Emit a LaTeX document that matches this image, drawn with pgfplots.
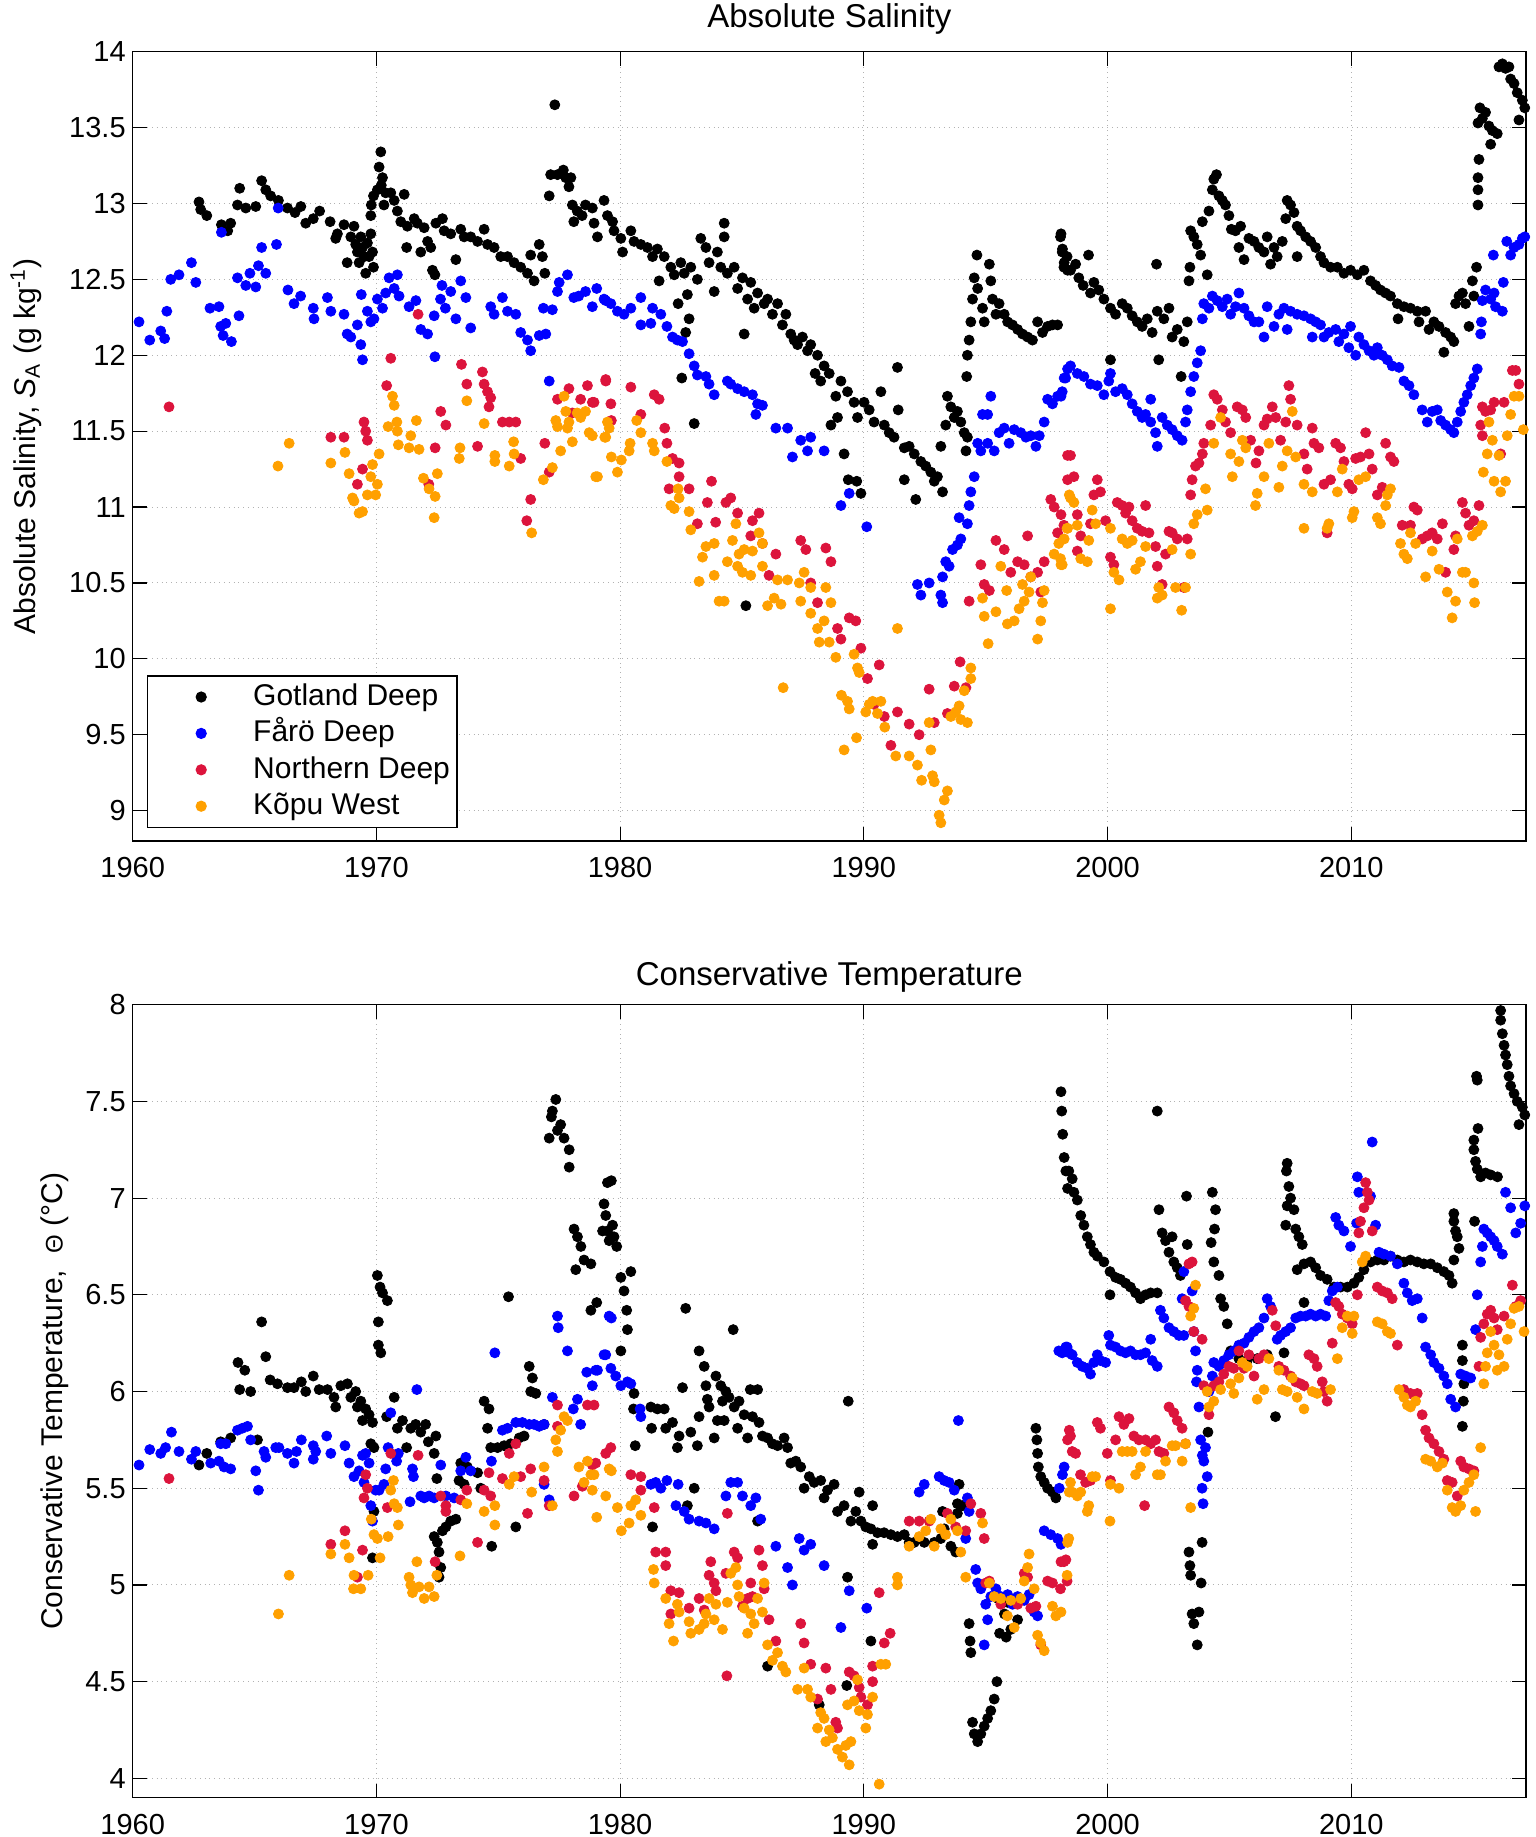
\documentclass[border=0pt]{standalone}
\usepackage{fontspec}
\setmainfont{Liberation Sans}
\usepackage{pgfplots}
\pgfplotsset{compat=1.18}
\definecolor{cblue}{RGB}{0,0,255}
\definecolor{cred}{RGB}{220,20,60}
\definecolor{corange}{RGB}{255,160,0}
\pgfplotsset{
 dots/.style={only marks, mark=*, mark size=2.5pt,
   legend image code/.code={\draw[##1] plot coordinates {(25pt,0pt)}; \path[draw=none,fill=none] (0pt,-3pt) rectangle (49.5pt,3pt);}},
 common/.style={scale only axis, width=696.65pt, xmin=1960, xmax=2017.17,
   xtick={1960,1970,...,2010}, grid=major,
   grid style={dotted, color=gray!60, line width=0.5pt},
   tick align=inside, tick pos=both, major tick length=7pt,
   axis line style={line width=0.6pt}, tick style={black, line width=0.6pt},
   /pgf/number format/assume math mode=true, /pgf/number format/1000 sep={},
   ticklabel style={font=\fontsize{14.5}{17}\selectfont},
   xticklabel style={yshift=-4.7pt},
   title style={at={(axis description cs:0.5,1)}, anchor=base, font=\fontsize{16.5}{19}\selectfont},
 }
}
\begin{document}
\begin{tikzpicture}
\useasboundingbox (0,0) rectangle (768pt,918.5pt);
% ---------------- TOP PANEL ----------------
\begin{axis}[common, at={(66.35pt,498pt)}, anchor=south west, height=394.65pt,
  ymin=8.8, ymax=14, ytick={9,9.5,...,14},
  yticklabels={9,9.5,10,10.5,11,11.5,12,12.5,13,13.5,14},
  title={Absolute Salinity}, title style={yshift=6pt},
  every axis y label/.style={at={(axis description cs:-0.0766,0.5)}, rotate=90, anchor=center, font=\fontsize{15}{18}\selectfont},
  ylabel={Absolute Salinity, \textit{S}\textsubscript{A} (g kg\textsuperscript{-1})},
  legend style={at={(axis description cs:0.00998,0.0167)}, anchor=south west, draw=black, line width=0.6pt,
    font=\fontsize{15}{18}\selectfont, inner xsep=2pt, inner ysep=1.4pt,
    nodes={inner sep=1.5pt, text height=11.7pt, text depth=3.5pt}},
  legend cell align=left]
\addplot[dots, color=black] coordinates {
(1962.72,13.01)(1962.79,12.96)(1963.04,12.92)(1963.64,12.86)(1964.02,12.87)(1963.9,12.82)(1964.39,13.10)(1964.3,12.99)
(1964.64,12.97)(1965.05,12.98)(1965.29,13.15)(1965.46,13.09)(1965.66,13.05)(1965.98,13.02)(1966.35,12.97)(1966.66,12.94)
(1966.9,12.98)(1967.1,12.87)(1967.41,12.90)(1967.67,12.95)(1968.1,12.88)(1968.4,12.80)(1968.33,12.77)(1968.67,12.86)
(1968.8,12.61)(1968.95,12.78)(1969.08,12.85)(1969.15,12.73)(1969.22,12.68)(1969.29,12.61)(1969.36,12.78)(1969.43,12.71)
(1969.5,12.65)(1969.56,12.54)(1969.63,12.74)(1969.7,12.65)(1969.77,12.80)(1969.84,12.68)(1969.88,12.58)(1969.77,12.92)
(1969.79,12.99)(1969.88,13.05)(1970.04,13.09)(1970.11,13.24)(1970.18,13.34)(1970.25,13.17)(1970.2,13.12)(1970.38,13.07)
(1970.31,12.99)(1970.59,13.07)(1970.73,13.02)(1970.86,12.95)(1971.14,13.06)(1971.0,12.88)(1971.27,12.85)(1971.24,12.71)
(1971.55,12.90)(1971.68,12.87)(1971.82,12.68)(1971.96,12.84)(1972.1,12.75)(1972.23,12.71)(1972.3,12.56)(1972.4,12.53)
(1972.44,12.87)(1972.71,12.90)(1972.78,12.82)(1973.05,12.80)(1973.26,12.63)(1973.46,12.83)(1973.6,12.78)(1973.87,12.78)
(1974.15,12.75)(1974.42,12.83)(1974.56,12.73)(1974.83,12.71)(1975.1,12.65)(1975.38,12.65)(1975.65,12.61)(1975.92,12.58)
(1976.2,12.54)(1976.33,12.66)(1976.47,12.49)(1976.68,12.73)(1976.81,12.65)(1976.91,12.54)(1977.09,13.05)(1977.15,13.19)
(1977.32,13.65)(1977.43,13.19)(1977.67,13.22)(1977.77,13.17)(1977.98,13.17)(1977.9,13.11)(1978.04,12.99)(1978.1,12.88)
(1978.24,12.95)(1978.44,12.92)(1978.58,12.99)(1978.86,12.97)(1978.93,12.87)(1979.07,12.78)(1979.34,13.02)(1979.48,12.92)
(1979.69,12.88)(1979.75,12.82)(1980.03,12.77)(1980.1,12.68)(1980.44,12.82)(1980.57,12.75)(1980.85,12.73)(1981.12,12.71)
(1981.33,12.65)(1981.53,12.70)(1981.6,12.49)(1981.81,12.65)(1982.08,12.58)(1982.22,12.53)(1982.38,12.34)(1982.49,12.61)
(1982.63,12.54)(1982.76,12.40)(1982.83,12.24)(1982.69,12.15)(1982.53,11.85)(1983.04,11.55)(1982.9,12.58)(1983.17,12.50)
(1983.31,12.77)(1983.52,12.71)(1983.65,12.61)(1983.86,12.42)(1983.99,12.68)(1984.13,12.58)(1984.27,12.87)(1984.27,12.78)
(1984.4,12.54)(1984.68,12.58)(1984.82,12.44)(1985.02,12.51)(1985.09,12.14)(1985.16,10.35)(1985.23,12.37)(1985.36,12.48)
(1985.5,12.31)(1985.64,12.41)(1985.91,12.34)(1986.05,12.37)(1986.25,12.27)(1986.46,12.34)(1986.66,12.20)(1986.8,12.27)
(1987.0,12.14)(1987.14,12.10)(1987.28,12.07)(1987.48,12.12)(1987.69,12.03)(1987.82,12.07)(1988.0,11.88)(1988.1,12.0)
(1988.23,11.83)(1988.37,11.93)(1988.58,11.88)(1988.65,11.54)(1988.85,11.73)(1988.92,11.59)(1989.06,11.83)(1989.19,11.35)
(1989.33,11.76)(1989.36,11.18)(1989.6,11.69)(1989.71,11.17)(1989.88,11.09)(1989.74,11.59)(1990.01,11.69)(1990.22,11.64)
(1990.42,11.56)(1990.7,11.76)(1990.84,11.54)(1991.04,11.49)(1991.24,11.46)(1991.38,11.92)(1991.41,11.64)(1991.66,11.39)
(1991.86,11.40)(1992.07,11.35)(1992.13,11.05)(1992.34,11.30)(1992.54,11.27)(1992.75,11.23)(1992.89,11.17)(1993.02,11.20)
(1993.23,11.10)(1991.66,11.18)(1993.16,11.40)(1993.36,11.54)(1993.43,11.73)(1993.57,11.66)(1993.71,11.59)(1993.84,11.63)
(1993.98,11.56)(1994.12,11.49)(1994.19,11.37)(1994.25,11.46)(1994.22,11.86)(1994.25,12.0)(1994.32,12.10)(1994.39,12.22)
(1994.46,12.37)(1994.53,12.51)(1994.64,12.66)(1994.67,12.44)(1994.87,12.31)(1994.94,12.22)(1995.15,12.60)(1995.21,12.49)
(1995.28,12.37)(1995.42,12.27)(1995.55,12.34)(1995.76,12.27)(1995.9,12.22)(1996.1,12.20)(1996.31,12.17)(1996.51,12.14)
(1996.72,12.12)(1996.92,12.10)(1997.13,12.22)(1997.33,12.15)(1997.54,12.19)(1997.74,12.20)(1997.95,12.20)(1998.09,12.80)
(1998.15,12.70)(1998.22,12.61)(1998.36,12.56)(1998.07,12.78)(1998.14,12.68)(1998.21,12.58)(1998.34,12.65)(1998.48,12.56)
(1998.69,12.60)(1998.82,12.51)(1999.0,12.46)(1999.22,12.66)(1999.3,12.41)(1999.44,12.48)(1999.64,12.43)(1999.85,12.37)
(2000.12,12.31)(2000.33,12.27)(2000.12,11.97)(2000.6,12.34)(2000.81,12.31)(2001.01,12.26)(2001.22,12.22)(2001.42,12.19)
(2001.63,12.24)(2001.83,12.15)(2002.01,12.60)(2002.04,12.29)(2002.1,11.97)(2002.31,12.24)(2002.52,12.31)(2002.65,12.12)
(2002.86,12.17)(2003.02,11.86)(2003.13,12.09)(2003.27,12.22)(2003.34,12.49)(2003.38,12.58)(2003.41,12.82)(2003.54,12.78)
(2003.68,12.73)(2003.82,12.66)(2003.89,12.88)(2004.09,12.53)(2004.16,12.95)(2004.3,13.09)(2004.36,13.16)(2004.47,13.19)
(2004.57,13.05)(2004.71,13.02)(2004.84,12.99)(2004.98,12.92)(2005.08,12.83)(2005.25,12.82)(2005.39,12.71)(2005.46,12.85)
(2005.6,12.63)(2005.8,12.77)(2006.01,12.75)(2006.21,12.71)(2006.42,12.68)(2006.55,12.78)(2006.69,12.60)(2006.83,12.71)
(2006.96,12.65)(2007.17,12.75)(2007.31,12.90)(2007.37,13.02)(2007.51,12.99)(2007.65,12.94)(2007.78,12.85)(2007.92,12.82)
(2007.78,12.65)(2008.13,12.78)(2008.33,12.75)(2008.54,12.71)(2008.74,12.65)(2008.88,12.61)(2009.15,12.58)(2009.43,12.58)
(2009.7,12.54)(2009.97,12.56)(2010.25,12.53)(2010.52,12.56)(2010.79,12.49)(2011.0,12.46)(2011.2,12.43)(2011.41,12.41)
(2011.61,12.39)(2011.89,12.34)(2011.92,12.24)(2012.16,12.32)(2012.43,12.31)(2012.71,12.29)(2012.78,12.22)(2013.05,12.29)
(2013.19,12.17)(2013.39,12.22)(2013.6,12.19)(2013.8,12.02)(2013.87,12.15)(2014.08,12.12)(2014.21,12.09)(2014.28,12.34)
(2014.42,12.39)(2014.56,12.41)(2014.69,12.34)(2014.83,12.19)(2014.97,12.49)(2015.03,12.39)(2015.14,12.58)(2015.2,12.99)
(2015.2,13.09)(2015.2,13.17)(2015.24,13.29)(2015.2,13.53)(2015.28,13.63)(2015.38,13.56)(2015.51,13.60)(2015.65,13.51)
(2015.79,13.48)(2015.72,13.39)(2015.99,13.46)(2016.06,13.90)(2016.2,13.92)(2016.33,13.89)(2016.47,13.90)(2016.54,13.82)
(2016.68,13.79)(2016.81,13.73)(2016.88,13.55)(2017.02,13.68)(2017.12,13.63)
};
\addlegendentry{Gotland Deep}
\addplot[dots, color=cblue] coordinates {
(1960.26,12.22)(1960.7,12.10)(1961.15,12.16)(1961.31,12.11)(1961.4,12.29)(1961.56,12.50)(1961.9,12.53)(1962.41,12.61)
(1962.59,12.48)(1963.17,12.31)(1963.54,12.32)(1963.64,12.81)(1963.61,12.19)(1963.82,12.21)(1963.71,12.13)(1964.05,12.09)
(1964.36,12.26)(1964.3,12.51)(1964.64,12.46)(1964.81,12.54)(1965.05,12.45)(1965.16,12.59)(1965.29,12.71)(1965.46,12.54)
(1965.9,12.73)(1965.97,12.97)(1966.37,12.43)(1966.62,12.34)(1966.89,12.39)(1967.41,12.31)(1967.44,12.24)(1967.99,12.38)
(1968.13,12.29)(1968.67,12.27)(1968.8,12.14)(1968.95,12.12)(1969.22,12.20)(1969.36,12.07)(1969.43,11.97)(1969.38,12.40)
(1969.63,12.29)(1969.77,12.22)(1969.9,12.24)(1970.04,12.37)(1970.25,12.31)(1970.38,12.41)(1970.52,12.51)(1970.73,12.44)
(1970.86,12.53)(1970.93,12.39)(1971.34,12.32)(1971.62,12.36)(1971.82,12.17)(1972.1,12.14)(1972.37,12.26)(1972.4,11.99)
(1972.63,12.37)(1972.69,12.46)(1972.83,12.31)(1973.05,12.42)(1973.26,12.24)(1973.46,12.49)(1973.67,12.38)(1973.87,12.18)
(1974.69,12.32)(1974.83,12.27)(1975.17,12.38)(1975.38,12.29)(1975.72,12.27)(1975.92,12.15)(1976.2,12.10)(1976.33,12.03)
(1976.68,12.13)(1976.95,12.14)(1976.85,12.31)(1977.09,11.83)(1977.22,12.30)(1977.43,12.42)(1977.5,12.48)(1977.84,12.53)
(1978.1,12.38)(1978.3,12.39)(1978.58,12.42)(1978.86,12.32)(1979.04,12.44)(1979.41,12.36)(1979.34,12.37)(1979.62,12.34)
(1979.89,12.29)(1980.16,12.27)(1980.44,12.31)(1980.85,12.38)(1980.85,12.20)(1981.33,12.31)(1981.26,12.21)(1981.67,12.27)
(1981.92,12.19)(1982.15,12.12)(1982.35,12.10)(1982.56,12.09)(1982.83,12.01)(1983.04,11.93)(1983.17,11.87)(1983.52,11.86)
(1983.65,11.81)(1983.86,11.74)(1984.4,11.83)(1984.54,11.81)(1984.82,11.78)(1985.09,11.76)(1985.43,11.74)(1985.64,11.68)
(1985.84,11.67)(1985.57,11.61)(1986.39,11.52)(1986.87,11.52)(1987.41,11.44)(1987.69,11.37)(1987.07,11.33)(1987.82,11.46)
(1988.37,11.37)(1989.06,11.01)(1989.4,11.09)(1990.12,10.87)(1992.2,10.49)(1992.34,10.42)(1992.68,10.50)(1993.16,10.42)
(1993.23,10.37)(1993.23,10.54)(1993.36,10.64)(1993.5,10.61)(1993.64,10.72)(1993.84,10.75)(1993.98,10.79)(1993.91,10.93)
(1994.25,10.89)(1994.32,11.01)(1994.39,11.10)(1994.53,11.20)(1994.67,11.42)(1994.8,11.37)(1994.87,11.61)(1995.08,11.61)
(1995.21,11.73)(1995.08,11.42)(1995.35,11.37)(1995.55,11.49)(1995.76,11.52)(1995.96,11.42)(1996.17,11.51)(1996.44,11.49)
(1996.65,11.46)(1996.85,11.47)(1997.06,11.40)(1997.2,11.47)(1997.4,11.56)(1997.54,11.71)(1997.74,11.68)(1997.95,11.73)
(1998.09,11.73)(1998.22,11.85)(1998.36,11.91)(1998.14,11.76)(1998.28,11.85)(1998.48,11.93)(1998.76,11.88)(1999.03,11.86)
(1999.3,11.81)(1999.58,11.80)(1999.85,11.74)(2000.05,11.83)(2000.12,11.88)(2000.33,11.76)(2000.6,11.78)(2000.81,11.74)
(2001.01,11.68)(2001.22,11.63)(2001.42,11.59)(2001.56,11.61)(2001.77,11.56)(2001.77,11.71)(2001.97,11.49)(2002.04,11.40)
(2002.24,11.59)(2002.45,11.54)(2002.65,11.51)(2002.86,11.47)(2003.06,11.44)(2003.2,11.56)(2003.27,11.64)(2003.41,11.76)
(2003.54,11.86)(2003.68,11.95)(2003.82,12.03)(2003.89,12.24)(2003.95,12.34)(2004.16,12.31)(2004.3,12.39)(2004.5,12.36)
(2004.71,12.32)(2004.91,12.37)(2005.05,12.27)(2005.25,12.32)(2005.39,12.41)(2005.6,12.31)(2005.8,12.26)(2006.01,12.22)
(2006.21,12.22)(2006.42,12.12)(2006.55,12.32)(2006.83,12.19)(2007.03,12.27)(2007.24,12.31)(2007.37,12.17)(2007.51,12.29)
(2007.78,12.27)(2008.06,12.26)(2008.33,12.24)(2008.54,12.22)(2008.74,12.20)(2008.4,12.12)(2008.88,12.12)(2009.08,12.15)
(2009.36,12.17)(2009.49,12.09)(2009.7,12.14)(2009.97,12.19)(2009.9,12.05)(2010.18,12.0)(2010.31,12.12)(2010.52,12.07)
(2010.73,12.03)(2010.93,12.0)(2011.07,12.05)(2011.27,12.0)(2011.48,11.97)(2011.68,11.93)(2011.96,11.92)(2012.16,11.83)
(2012.37,11.80)(2012.57,11.74)(2012.91,11.64)(2013.12,11.56)(2013.32,11.63)(2013.53,11.64)(2013.67,11.57)(2013.87,11.54)
(2014.08,11.51)(2014.21,11.49)(2014.35,11.56)(2014.49,11.63)(2014.62,11.69)(2014.76,11.74)(2014.9,11.80)(2015.03,11.85)
(2015.17,11.91)(2015.31,12.14)(2015.34,12.22)(2015.38,12.36)(2015.51,12.43)(2015.72,12.37)(2015.86,12.41)(2015.92,12.32)
(2016.2,12.29)(2015.83,12.66)(2016.24,12.48)(2016.38,12.75)(2016.54,12.66)(2016.68,12.71)(2016.88,12.73)(2017.02,12.77)
(2017.12,12.78)
};
\addlegendentry{Fårö Deep}
\addplot[dots, color=cred] coordinates {
(1961.49,11.66)(1968.13,11.46)(1968.67,11.46)(1969.49,11.56)(1969.56,11.50)(1969.63,11.44)(1969.43,11.25)(1969.22,11.15)
(1970.42,11.80)(1970.59,11.98)(1971.71,12.27)(1972.15,11.15)(1972.41,11.39)(1972.64,11.63)(1972.85,11.54)(1973.49,11.94)
(1973.71,11.81)(1974.15,11.40)(1974.35,11.89)(1974.42,11.81)(1974.56,11.76)(1974.69,11.72)(1974.62,11.66)(1975.17,11.56)
(1975.45,11.56)(1975.72,11.56)(1975.92,11.32)(1976.17,10.91)(1976.33,11.05)(1976.91,11.42)(1977.09,11.23)(1977.43,11.71)
(1977.9,11.78)(1978.04,11.62)(1978.38,11.71)(1978.66,11.80)(1978.86,11.69)(1979.41,11.84)(1978.93,11.69)(1979.41,11.83)
(1979.62,11.68)(1979.64,11.57)(1980.44,11.79)(1980.85,11.61)(1981.4,11.74)(1981.6,11.71)(1981.83,11.52)(1981.92,11.42)
(1982.15,11.32)(1982.42,11.29)(1982.42,11.20)(1982.01,11.12)(1982.83,11.12)(1983.17,10.89)(1983.58,11.03)(1983.75,11.17)
(1983.92,10.90)(1984.34,11.03)(1984.54,11.06)(1984.82,10.96)(1985.36,10.81)(1985.43,10.91)(1985.7,10.96)(1985.84,10.76)
(1986.11,10.55)(1986.39,10.69)(1987.41,10.78)(1987.62,10.72)(1987.82,10.50)(1988.1,10.37)(1988.44,10.73)(1988.65,10.64)
(1988.92,10.20)(1989.06,10.13)(1989.4,10.27)(1989.67,10.25)(1989.88,10.07)(1990.15,9.87)(1990.63,9.96)(1990.42,9.70)
(1990.84,9.62)(1991.11,9.43)(1991.38,9.65)(1991.86,9.57)(1992.27,9.50)(1992.68,9.80)(1992.89,9.58)(1993.43,9.64)
(1993.71,9.82)(1993.95,9.98)(1994.19,9.81)(1994.32,10.38)(1994.8,10.62)(1994.94,10.49)(1995.15,10.45)(1995.42,10.78)
(1995.76,10.72)(1996.03,10.57)(1996.31,10.64)(1996.58,10.62)(1996.72,10.81)(1996.85,10.54)(1997.13,10.57)(1997.26,10.44)
(1997.4,10.64)(1997.67,11.05)(1997.81,11.0)(1997.95,10.83)(1998.09,10.95)(1998.36,11.34)(1998.36,11.18)(1998.21,10.88)
(1998.48,11.34)(1998.62,11.20)(1998.76,10.95)(1998.76,10.71)(1998.9,10.81)(1999.3,10.89)(1999.44,11.08)(1999.58,11.18)
(1999.71,11.10)(1999.92,10.91)(2000.12,10.67)(2000.26,10.62)(2000.4,11.03)(2000.6,11.01)(2000.74,10.96)(2000.88,11.0)
(2001.01,10.91)(2001.22,10.86)(2001.42,10.84)(2001.56,11.01)(2001.7,10.83)(2001.97,10.74)(2002.04,10.61)(2002.24,10.49)
(2002.38,10.69)(2002.52,10.84)(2002.65,10.83)(2002.86,10.79)(2003.13,10.47)(2003.27,10.79)(2003.41,11.08)(2003.47,11.18)
(2003.61,11.27)(2003.75,11.29)(2003.89,11.35)(2003.95,11.42)(2004.23,11.54)(2004.36,11.74)(2004.5,11.71)(2004.71,11.64)
(2004.84,11.56)(2005.05,11.49)(2005.32,11.66)(2005.53,11.64)(2005.67,11.59)(2005.87,11.44)(2006.09,11.29)(2006.21,11.37)
(2006.42,11.54)(2006.55,11.58)(2006.76,11.66)(2006.9,11.59)(2007.1,11.44)(2007.31,11.56)(2007.44,11.80)(2007.51,11.71)
(2007.78,11.54)(2008.06,11.35)(2008.19,11.25)(2008.4,11.52)(2008.47,11.42)(2008.67,11.39)(2008.88,11.15)(2009.01,10.83)
(2009.15,11.18)(2009.36,11.42)(2009.56,11.39)(2009.7,11.30)(2009.9,11.15)(2010.04,11.12)(2010.18,11.32)(2010.38,11.33)
(2010.59,11.49)(2010.73,11.35)(2010.86,11.25)(2011.07,11.08)(2011.27,11.13)(2011.41,11.42)(2011.61,11.33)(2011.75,11.30)
(2012.09,10.88)(2012.43,10.88)(2012.57,11.0)(2012.71,10.98)(2012.91,10.79)(2013.12,10.81)(2013.32,10.83)(2013.53,10.79)
(2013.74,10.89)(2013.87,10.57)(2014.21,10.72)(2014.28,10.81)(2014.56,11.03)(2014.69,10.96)(2014.83,10.88)(2015.03,10.91)
(2015.24,11.01)(2015.38,11.66)(2015.31,11.54)(2015.38,11.47)(2015.51,11.63)(2015.72,11.64)(2015.86,11.69)(2016.13,11.35)
(2016.27,11.69)(2016.61,11.90)(2016.75,11.90)(2016.88,11.81)
};
\addlegendentry{Northern Deep}
\addplot[dots, color=corange] coordinates {
(1965.96,11.27)(1966.42,11.42)(1968.13,11.29)(1968.71,11.36)(1968.88,11.22)(1969.02,11.06)(1969.08,11.04)(1969.29,10.96)
(1969.43,10.97)(1969.63,11.08)(1969.77,11.20)(1969.84,11.28)(1969.97,11.08)(1970.04,11.15)(1970.11,11.35)(1970.48,11.53)
(1970.66,11.73)(1970.73,11.67)(1970.84,11.56)(1970.86,11.50)(1970.9,11.41)(1971.34,11.39)(1971.41,11.47)(1971.64,11.57)
(1971.75,11.38)(1971.93,11.19)(1972.16,11.12)(1972.41,11.07)(1972.37,10.93)(1972.5,11.22)(1973.43,11.39)(1973.4,11.32)
(1973.71,11.70)(1974.42,11.55)(1974.86,11.30)(1974.86,11.34)(1975.45,11.27)(1975.63,11.43)(1975.65,11.35)(1976.37,10.83)
(1976.85,11.18)(1977.22,11.26)(1977.36,11.57)(1977.43,11.53)(1977.56,11.37)(1977.7,11.73)(1977.77,11.63)(1977.84,11.52)
(1977.9,11.56)(1978.04,11.43)(1978.24,11.62)(1978.38,11.59)(1978.58,11.63)(1978.73,11.49)(1978.86,11.47)(1979.07,11.20)
(1979.37,11.46)(1979.48,11.56)(1979.0,11.20)(1979.41,11.46)(1979.55,11.52)(1979.64,11.33)(1979.89,11.23)(1980.05,11.31)
(1980.41,11.42)(1980.37,11.37)(1980.68,11.57)(1980.85,11.49)(1981.33,11.42)(1981.4,11.37)(1981.92,11.30)(1982.08,11.01)
(1982.22,10.99)(1982.38,11.12)(1982.42,11.06)(1982.83,10.97)(1982.9,10.85)(1983.24,10.51)(1983.38,10.67)(1983.52,10.74)
(1983.86,10.76)(1983.86,10.55)(1984.06,10.38)(1984.27,10.38)(1984.4,10.64)(1984.61,10.78)(1984.75,10.89)(1984.82,10.61)
(1984.88,10.69)(1985.02,10.57)(1985.09,10.72)(1985.36,10.55)(1985.43,10.71)(1985.7,10.83)(1985.84,10.76)(1985.84,10.61)
(1986.05,10.35)(1986.32,10.40)(1986.46,10.52)(1986.6,10.36)(1986.69,9.81)(1986.87,10.52)(1987.35,10.50)(1987.41,10.38)
(1987.55,10.57)(1987.82,10.47)(1987.82,10.30)(1988.1,10.20)(1988.17,10.11)(1988.37,10.25)(1988.44,10.47)(1988.58,10.11)
(1988.65,10.37)(1988.85,10.01)(1989.08,9.76)(1989.19,9.40)(1989.33,9.72)(1989.4,9.67)(1989.6,10.03)(1989.7,9.48)
(1989.74,9.94)(1989.81,9.91)(1990.08,9.65)(1990.22,9.70)(1990.36,9.72)(1990.56,9.64)(1990.7,9.72)(1990.86,9.55)
(1991.31,9.36)(1991.38,10.20)(1991.86,9.36)(1992.2,9.30)(1992.37,9.20)(1992.68,9.58)(1992.75,9.40)(1992.82,9.23)
(1992.89,9.19)(1993.09,8.97)(1993.16,8.92)(1993.3,9.07)(1993.43,9.13)(1993.57,9.62)(1993.77,9.65)(1993.91,9.69)
(1993.98,9.60)(1994.25,9.58)(1994.12,9.79)(1994.39,9.94)(1994.39,9.87)(1994.87,10.40)(1994.94,10.28)(1995.1,10.10)
(1995.42,10.31)(1995.62,10.61)(1995.86,10.45)(1995.89,10.23)(1996.17,10.25)(1996.37,10.33)(1996.51,10.49)(1996.58,10.38)
(1996.78,10.44)(1996.85,10.54)(1997.13,10.13)(1997.26,10.25)(1997.33,10.37)(1997.4,10.45)(1997.81,10.69)(1998.09,10.62)
(1998.22,10.79)(1998.36,10.86)(1998.43,11.08)(1998.0,10.76)(1998.07,10.66)(1998.14,10.62)(1998.34,10.86)(1998.48,11.06)
(1998.62,11.03)(1998.76,10.88)(1998.9,10.66)(1999.17,10.64)(1999.23,10.78)(1999.37,10.98)(1999.51,10.89)(2000.12,10.33)
(2000.12,10.86)(2000.26,10.57)(2000.47,10.52)(2000.6,10.79)(2000.81,10.76)(2001.01,10.78)(2001.15,10.59)(2001.35,10.64)
(2001.56,10.74)(2002.04,10.40)(2002.1,10.47)(2002.24,10.42)(2002.65,10.72)(2002.79,10.47)(2003.04,10.32)(2003.2,10.47)
(2003.41,10.69)(2003.54,10.89)(2003.68,10.95)(2004.02,11.12)(2004.09,10.98)(2004.36,11.42)(2004.64,11.59)(2005.05,11.35)
(2005.12,11.20)(2005.39,11.30)(2005.53,11.44)(2005.67,11.39)(2006.07,11.01)(2006.14,11.09)(2006.42,11.20)(2006.62,11.42)
(2007.03,11.13)(2007.17,11.27)(2007.37,11.37)(2007.58,11.63)(2007.72,11.33)(2008.06,11.15)(2008.06,10.86)(2008.4,11.10)
(2009.01,10.86)(2009.08,10.89)(2009.43,11.10)(2009.63,11.25)(2010.04,10.93)(2010.11,10.97)(2010.31,11.18)(2010.59,11.20)
(2011.07,10.93)(2011.2,10.89)(2011.41,11.01)(2011.48,11.08)(2011.61,11.12)(2012.02,10.76)(2012.16,10.69)(2012.3,10.66)
(2012.43,10.83)(2012.64,10.76)(2013.05,10.54)(2013.32,10.71)(2013.6,10.59)(2013.94,10.44)(2014.14,10.27)(2014.28,10.38)
(2014.35,10.79)(2014.56,10.57)(2014.69,10.57)(2014.97,10.81)(2015.03,10.50)(2015.06,10.37)(2015.17,10.84)(2015.38,10.88)
(2015.42,11.23)(2015.58,11.35)(2015.65,11.56)(2015.79,11.44)(2015.86,11.17)(2016.06,11.34)(2016.13,11.10)(2016.33,11.17)
(2016.4,11.47)(2016.54,11.61)(2016.68,11.73)(2016.88,11.73)(2017.06,11.51)
};
\addlegendentry{Kõpu West}
\end{axis}
% ---------------- BOTTOM PANEL ----------------
\begin{axis}[common, at={(66.35pt,19.65pt)}, anchor=south west, height=396.5pt,
  ymin=3.9, ymax=8, ytick={4,4.5,...,8},
  yticklabels={4,4.5,5,5.5,6,6.5,7,7.5,8},
  title={Conservative Temperature}, title style={yshift=3.8pt},
  every axis y label/.style={at={(axis description cs:-0.0558,0.5)}, rotate=90, anchor=center, font=\fontsize{15}{18}\selectfont},
  ylabel={Conservative Temperature,\ \ {\fontsize{12}{14}\selectfont Θ} (°C)}]
\addplot[dots, color=black] coordinates {
(1962.72,5.62)(1963.04,5.68)(1963.61,5.74)(1964.02,5.76)(1964.32,6.15)(1964.39,6.01)(1964.6,6.11)(1964.84,6.0)
(1965.12,5.75)(1965.29,6.36)(1965.46,6.18)(1965.64,6.06)(1965.94,6.04)(1966.35,6.02)(1966.62,6.02)(1966.92,6.05)
(1967.1,6.0)(1967.41,6.08)(1967.65,6.01)(1967.99,6.01)(1968.26,5.97)(1968.33,5.92)(1968.54,6.03)(1968.81,6.04)
(1968.95,5.97)(1969.15,6.0)(1969.22,5.92)(1969.36,5.95)(1969.43,5.85)(1969.56,5.91)(1969.7,5.88)(1969.84,5.84)
(1969.77,5.73)(1969.9,5.71)(1969.84,5.14)(1969.9,5.38)(1970.04,6.60)(1970.15,6.54)(1970.25,6.51)(1970.45,6.47)
(1970.08,6.36)(1970.08,6.24)(1970.18,6.20)(1970.42,5.87)(1970.73,5.97)(1970.86,5.81)(1971.07,5.85)(1971.24,5.71)
(1971.41,5.81)(1971.61,5.83)(1971.82,5.79)(1972.02,5.83)(1972.13,5.74)(1972.37,5.68)(1972.44,5.77)(1972.48,5.55)
(1972.37,5.25)(1972.5,5.22)(1972.57,5.17)(1972.64,5.09)(1972.57,5.04)(1972.71,5.28)(1972.85,5.30)(1973.05,5.33)
(1973.26,5.34)(1973.39,5.54)(1973.46,5.63)(1973.6,5.52)(1973.73,5.61)(1974.15,5.58)(1974.28,5.50)(1974.42,5.95)
(1974.62,5.91)(1974.56,5.81)(1974.69,5.71)(1974.73,5.20)(1974.97,5.71)(1975.24,5.72)(1975.42,6.49)(1975.51,5.73)
(1975.72,5.30)(1975.86,5.76)(1976.06,5.77)(1976.27,6.13)(1976.4,6.07)(1976.33,6.0)(1976.54,5.99)(1976.88,5.83)
(1977.09,7.31)(1977.18,7.42)(1977.36,7.51)(1977.22,7.45)(1977.43,7.35)(1977.56,7.38)(1977.7,7.31)(1977.91,7.25)
(1977.91,7.16)(1978.11,6.84)(1978.25,6.80)(1978.39,6.75)(1978.18,6.63)(1978.52,6.68)(1978.8,6.66)(1978.8,6.42)
(1979.04,6.46)(1979.34,6.97)(1979.41,6.91)(1979.28,6.83)(1979.48,7.08)(1979.48,6.83)(1979.55,6.78)(1979.64,7.09)
(1979.69,6.86)(1979.75,6.80)(1979.86,6.75)(1980.03,6.59)(1980.16,6.52)(1980.27,6.42)(1980.3,6.32)(1980.44,6.62)
(1980.03,6.21)(1980.57,5.99)(1980.55,5.91)(1980.62,5.72)(1981.26,5.92)(1981.29,5.81)(1981.53,5.91)(1981.81,5.91)
(1981.87,5.81)(1982.15,5.84)(1982.35,5.71)(1982.42,5.77)(1982.56,6.02)(1982.69,6.43)(1982.76,5.41)(1982.9,5.79)
(1983.04,5.50)(1983.17,5.72)(1983.24,6.21)(1983.24,5.87)(1983.45,6.13)(1983.52,6.03)(1983.58,5.96)(1983.65,5.92)
(1983.86,5.76)(1983.93,6.08)(1983.99,5.85)(1984.13,6.03)(1984.2,5.95)(1984.27,5.85)(1984.34,6.0)(1984.47,5.97)
(1984.64,6.32)(1984.68,5.92)(1984.82,5.81)(1984.88,5.95)(1985.09,5.88)(1985.23,5.76)(1985.34,6.01)(1985.43,5.87)
(1985.64,6.01)(1985.7,5.84)(1985.84,5.77)(1986.05,5.76)(1986.25,5.73)(1986.46,5.72)(1986.73,5.76)(1986.87,5.71)
(1987.0,5.63)(1987.21,5.64)(1987.41,5.61)(1987.55,5.50)(1987.76,5.56)(1987.96,5.53)(1988.23,5.54)(1988.37,5.45)
(1988.51,5.49)(1988.78,5.52)(1988.92,5.38)(1989.19,5.41)(1989.36,5.95)(1989.47,5.33)(1989.67,5.38)(1989.81,5.48)
(1989.88,5.33)(1990.08,5.30)(1990.29,5.29)(1990.36,5.41)(1990.36,5.21)(1990.56,5.27)(1990.83,5.27)(1991.11,5.26)
(1991.38,5.25)(1991.66,5.26)(1991.86,5.22)(1992.07,5.22)(1992.27,5.24)(1992.48,5.22)(1992.89,5.22)(1993.16,5.24)
(1993.3,5.29)(1993.57,5.20)(1993.77,5.17)(1993.84,5.42)(1993.91,5.52)(1989.3,4.48)(1988.17,4.38)(1986.05,4.58)
(1985.64,5.33)(1989.33,5.04)(1990.29,4.71)(1981.33,5.30)(1993.23,5.38)(1993.84,5.37)(1994.05,5.41)
(1994.32,4.80)(1994.36,4.71)(1994.39,4.65)(1994.46,4.29)(1994.53,4.23)(1994.67,4.19)(1994.8,4.23)(1994.94,4.27)
(1995.08,4.31)(1995.21,4.35)(1995.35,4.41)(1995.46,4.50)(1995.5,4.93)(1995.77,4.85)(1996.03,4.77)(1996.31,4.82)
(1995.9,4.91)(1995.57,4.75)(1995.84,4.73)
(1997.06,5.81)(1997.1,5.75)(1997.13,5.68)(1997.16,5.61)(1997.26,5.56)(1997.4,5.53)(1997.54,5.50)(1997.74,5.48)
(1997.88,5.45)(1998.09,7.55)(1998.12,7.45)(1998.16,7.33)(1998.22,7.21)(1998.29,7.14)(1998.36,7.05)
(1998.41,7.14)(1998.55,7.10)(1998.62,7.03)(1998.76,6.99)(1998.9,6.91)(1999.03,6.86)(1999.17,6.80)(1999.3,6.76)
(1999.44,6.72)(1999.58,6.70)(1999.85,6.67)(2000.1,6.62)(2000.1,6.50)(2000.33,6.59)(2000.53,6.58)(2000.74,6.56)
(2000.94,6.54)(2001.15,6.51)(2001.35,6.48)(2001.56,6.50)(2001.77,6.51)(2002.04,6.51)(2002.04,7.45)(2002.11,6.94)
(2002.24,6.82)(2002.38,6.78)(2002.52,6.72)(2002.65,6.80)(2002.72,6.67)(2002.86,6.64)(2002.99,6.60)(2003.24,7.01)
(2003.27,6.76)(2003.34,5.17)(2003.38,5.10)(2003.41,5.05)(2003.47,4.85)(2003.54,4.80)(2003.68,4.69)(2003.75,4.86)
(2003.84,5.01)(2003.88,5.22)(2004.3,7.03)(2004.43,6.94)(2004.39,6.84)(2004.25,6.77)(2004.36,6.67)(2004.57,6.60)
(2004.64,6.48)(2004.77,6.44)(2004.91,6.35)(2004.12,5.79)(2005.05,6.21)(2005.39,6.17)(2005.73,6.16)(2006.14,6.17)
(2006.55,6.19)(2006.89,5.87)(2007.24,6.20)(2007.37,7.18)(2007.34,7.14)(2007.44,7.06)(2007.51,7.0)(2007.37,6.96)
(2007.31,6.86)(2007.65,6.94)(2007.72,6.84)(2007.85,6.80)(2007.99,6.76)(2008.06,6.46)(2007.78,6.63)(2008.06,6.66)
(2008.33,6.67)(2008.54,6.64)(2008.74,6.60)(2009.01,6.58)(2009.29,6.54)(2009.56,6.54)(2009.84,6.54)(2010.11,6.56)
(2010.31,6.59)(2010.52,6.63)(2010.79,6.67)(2011.07,6.68)(2011.34,6.68)(2011.61,6.70)(2011.89,6.68)(2012.16,6.67)
(2012.43,6.68)(2012.71,6.67)(2012.98,6.66)(2013.26,6.66)(2013.53,6.64)(2013.8,6.62)(2014.01,6.60)(2014.14,6.56)
(2014.21,6.92)(2014.21,6.88)(2014.28,6.83)(2014.35,6.80)(2014.42,6.74)(2014.21,6.68)(2014.56,6.24)(2014.56,6.16)
(2014.62,6.04)(2014.6,5.95)(2014.56,5.82)(2015.06,6.88)(2015.14,7.63)(2015.17,7.61)(2015.2,7.36)(2015.03,7.30)
(2015.03,7.25)(2015.1,7.19)(2015.17,7.15)(2015.31,7.11)(2015.51,7.13)(2015.72,7.12)(2016.0,7.11)(2016.13,7.97)
(2016.13,7.92)(2016.2,7.85)(2016.27,7.79)(2016.33,7.74)(2016.4,7.69)(2016.47,7.63)(2016.54,7.58)(2016.68,7.54)
(2016.81,7.50)(2016.88,7.38)(2017.02,7.47)(2017.12,7.43)
};
\addplot[dots, color=cblue] coordinates {
(1960.26,5.62)(1960.7,5.70)(1961.15,5.68)(1961.35,5.71)(1961.59,5.79)(1961.9,5.69)(1962.41,5.65)(1962.59,5.69)
(1963.2,5.63)(1963.54,5.64)(1963.75,5.61)(1964.02,5.60)(1963.61,5.73)(1963.82,5.73)(1964.3,5.80)(1964.5,5.81)
(1964.71,5.82)(1964.84,5.75)(1965.05,5.59)(1965.16,5.49)(1965.39,5.69)(1965.46,5.66)(1965.87,5.71)(1966.0,5.71)
(1966.35,5.68)(1966.62,5.63)(1966.72,5.69)(1966.92,5.75)(1967.41,5.72)(1967.41,5.65)(1967.51,5.69)(1967.96,5.77)
(1968.13,5.68)(1968.71,5.72)(1968.88,5.63)(1969.08,5.56)(1969.29,5.59)(1969.43,5.67)(1969.56,5.68)(1969.49,5.53)
(1969.7,5.63)(1969.77,5.41)(1969.84,5.33)(1969.97,5.49)(1970.11,5.49)(1970.31,5.52)(1970.38,5.60)(1970.48,5.71)
(1970.59,5.89)(1970.83,5.64)(1970.9,5.68)(1971.38,5.43)(1971.48,5.60)(1971.52,5.56)(1971.66,6.01)(1971.82,5.46)
(1971.96,5.45)(1972.16,5.46)(1972.37,5.45)(1972.64,5.62)(1972.85,5.46)(1973.19,5.45)(1973.46,5.59)(1973.67,5.66)
(1973.87,5.59)(1974.72,5.64)(1974.86,6.20)(1975.17,5.80)(1975.38,5.81)(1975.72,5.84)(1975.99,5.84)(1976.27,5.83)
(1976.47,5.83)(1976.68,5.82)(1976.88,5.83)(1976.88,5.52)(1977.09,5.44)(1977.22,5.97)(1977.43,6.39)(1977.46,6.33)
(1977.84,6.21)(1978.08,5.91)(1978.25,5.96)(1978.38,5.83)(1978.63,6.10)(1978.86,6.03)(1979.0,6.11)(1979.34,6.19)
(1979.55,6.39)(1979.07,6.11)(1979.41,6.19)(1979.64,6.38)(1979.62,6.12)(1979.82,6.08)(1980.03,6.03)(1980.3,6.05)
(1980.44,6.04)(1980.82,5.91)(1980.85,5.87)(1981.26,5.52)(1981.46,5.53)(1981.67,5.50)(1981.92,5.54)(1982.29,5.41)
(1982.38,5.52)(1982.63,5.38)(1982.83,5.34)(1983.24,5.33)(1983.52,5.32)(1983.86,5.29)(1984.34,5.46)(1984.54,5.53)
(1984.82,5.53)(1985.02,5.46)(1985.36,5.41)(1985.57,5.45)(1985.77,5.34)(1986.39,5.20)(1986.87,5.09)(1987.07,5.0)
(1987.35,5.24)(1987.55,5.18)(1987.82,5.21)(1988.37,5.10)(1989.06,4.78)(1989.4,4.97)(1990.12,4.88)(1992.27,5.48)
(1992.48,5.52)(1993.09,5.56)(1993.3,5.54)(1993.5,5.53)(1993.71,5.49)(1993.88,5.85)(1994.25,5.45)(1994.18,5.24)
(1994.32,5.38)(1994.59,5.08)(1994.67,5.01)(1994.8,4.98)(1995.0,4.90)(1995.08,4.82)(1994.94,4.69)(1995.21,4.94)
(1995.42,4.98)(1995.62,4.94)(1995.9,4.95)(1996.1,4.90)(1996.31,4.94)(1996.58,4.92)(1996.78,4.95)(1996.99,4.86)
(1997.13,4.84)(1997.4,5.28)(1997.67,5.26)(1997.95,5.24)(1998.09,5.21)(1998.02,5.50)(1998.15,5.57)(1998.22,5.61)
(1998.29,6.23)(1998.43,6.20)(1998.0,6.21)(1998.14,6.20)(1998.34,6.23)(1998.55,6.19)(1998.76,6.15)(1998.96,6.13)
(1999.17,6.12)(1999.3,6.09)(1999.44,6.15)(1999.58,6.19)(1999.71,6.16)(1999.92,6.15)(2000.05,6.29)(2000.12,6.24)
(2000.33,6.23)(2000.53,6.21)(2000.74,6.20)(2000.94,6.21)(2001.15,6.19)(2001.35,6.19)(2001.56,6.20)(2001.77,6.27)
(2001.83,6.16)(2002.04,6.13)(2002.17,6.42)(2002.31,6.38)(2002.52,6.33)(2002.72,6.31)(2002.93,6.29)(2003.13,6.29)
(2003.13,6.62)(2003.06,6.48)(2003.47,6.52)(2003.54,6.31)(2003.61,6.21)(2003.68,6.11)(2003.65,6.05)(2003.75,5.92)
(2003.82,5.75)(2003.89,5.67)(2003.95,5.64)(2004.09,5.56)(2003.88,5.50)(2003.92,5.42)(2004.02,5.71)(2004.16,6.0)
(2004.3,6.08)(2004.36,6.15)(2004.57,6.13)(2004.77,6.16)(2004.98,6.19)(2005.18,6.21)(2005.39,6.24)(2005.6,6.25)
(2005.8,6.28)(2006.01,6.31)(2006.21,6.33)(2006.42,6.38)(2006.55,6.48)(2006.69,6.44)(2006.96,6.27)(2007.1,6.29)
(2007.31,6.31)(2007.51,6.33)(2007.72,6.38)(2007.92,6.39)(2008.13,6.39)(2008.33,6.40)(2008.54,6.39)(2008.74,6.40)
(2008.95,6.39)(2009.08,6.47)(2009.22,6.52)(2009.43,6.54)(2009.36,6.90)(2009.49,6.86)(2009.7,6.83)(2009.97,6.75)
(2010.25,7.11)(2010.31,7.03)(2010.22,6.87)(2010.86,7.29)(2010.79,7.01)(2011.0,6.86)(2011.14,6.72)(2011.34,6.71)
(2011.61,6.70)(2011.89,6.66)(2012.16,6.56)(2012.3,6.51)(2012.5,6.47)(2012.71,6.48)(2012.91,6.38)(2013.05,6.23)
(2013.26,6.19)(2013.39,6.15)(2013.6,6.12)(2013.8,6.08)(2013.94,6.04)(2014.08,5.96)(2014.28,5.92)(2014.49,6.09)
(2014.69,6.08)(2014.9,6.07)(2015.1,6.32)(2015.17,6.50)(2015.31,6.67)(2015.38,6.75)(2015.44,6.84)(2015.58,6.82)
(2015.72,6.80)(2015.86,6.78)(2015.99,6.75)(2016.2,6.71)(2016.33,7.03)(2016.54,6.95)(2016.75,6.82)(2016.95,6.87)
(2017.12,6.96)
};
\addplot[dots, color=cred] coordinates {
(1961.49,5.55)(1968.13,5.21)(1968.71,5.28)(1969.22,5.04)(1969.43,5.18)(1969.49,5.45)(1969.56,5.57)(1969.63,5.50)
(1970.45,5.40)(1970.59,5.68)(1971.71,5.67)(1972.41,5.12)(1972.64,5.46)(1972.85,5.41)(1972.85,5.38)(1973.46,5.44)
(1973.71,5.49)(1974.15,5.22)(1974.42,5.49)(1974.62,5.58)(1974.69,5.46)(1975.17,5.55)(1975.45,5.68)(1975.72,5.73)
(1975.92,5.56)(1976.2,5.37)(1976.33,5.60)(1976.88,5.54)(1977.09,5.41)(1977.43,5.93)(1977.43,5.82)(1978.11,5.46)
(1978.45,5.51)(1978.66,5.93)(1978.86,5.62)(1979.41,5.68)(1978.93,5.93)(1979.0,5.63)(1979.62,5.71)(1980.44,5.57)
(1980.85,5.56)(1980.85,5.49)(1981.4,5.40)(1981.46,5.17)(1981.87,5.17)(1981.87,5.10)(1982.08,4.97)(1982.42,4.96)
(1982.08,4.85)(1982.83,4.88)(1983.24,4.93)(1983.45,4.87)(1983.65,5.05)(1983.72,5.12)(1983.86,5.01)(1983.93,4.97)
(1984.34,5.06)(1984.38,4.53)(1984.4,5.37)(1984.68,5.17)(1984.82,5.14)(1985.02,4.89)(1985.23,4.93)(1985.36,5.01)
(1985.43,4.94)(1985.7,5.18)(1985.84,5.10)(1985.91,4.98)(1986.11,4.82)(1986.39,4.71)(1987.41,4.80)(1987.55,4.70)
(1987.82,4.59)(1988.1,4.41)(1988.44,4.57)(1988.65,4.46)(1988.85,4.29)(1988.92,4.26)(1989.4,4.55)(1989.6,4.53)
(1989.81,4.47)(1989.88,4.42)(1990.15,4.38)(1990.36,4.50)(1990.36,4.58)(1990.63,4.96)(1990.84,4.70)(1991.08,4.75)
(1991.86,5.33)(1992.27,5.33)(1992.68,5.33)(1993.43,5.37)(1993.77,5.30)(1994.18,5.28)(1994.39,5.42)(1994.8,5.37)
(1994.94,5.24)(1995.0,5.01)(1995.15,5.02)(1995.62,4.90)(1996.31,4.90)(1996.58,5.06)(1996.72,5.04)(1996.85,4.88)
(1997.06,4.89)(1997.26,4.69)(1997.54,5.02)(1997.74,5.01)(1998.09,5.12)(1998.29,5.13)(1998.36,5.75)(1998.43,5.80)
(1998.21,5.12)(1998.34,5.02)(1998.07,4.98)(1998.48,5.77)(1998.55,5.69)(1998.69,5.68)(1998.89,5.57)(1999.1,5.53)
(1999.3,5.54)(1999.58,5.84)(1999.71,5.81)(1999.99,5.68)(2000.12,5.54)(2000.33,5.75)(2000.47,5.87)(2000.67,5.83)
(2000.88,5.86)(2001.08,5.77)(2001.29,5.75)(2001.52,5.41)(2001.56,5.75)(2001.77,5.73)(2001.97,5.75)(2002.11,5.69)
(2002.31,5.68)(2002.52,5.92)(2002.72,5.89)(2002.86,5.85)(2003.06,5.81)(2003.2,5.73)(2003.34,6.66)(2003.47,6.67)
(2003.2,6.47)(2003.34,6.44)(2003.54,6.31)(2003.88,6.27)(2003.95,6.03)(2004.16,5.88)(2004.36,6.03)(2004.57,6.05)
(2004.77,6.09)(2004.98,6.13)(2005.18,6.12)(2005.39,6.21)(2005.6,6.12)(2005.8,6.19)(2006.01,6.08)(2006.21,6.17)
(2006.42,6.19)(2006.76,6.42)(2006.9,6.34)(2007.03,6.13)(2007.24,6.11)(2007.51,6.08)(2007.72,6.05)(2007.92,6.04)
(2008.06,6.03)(2008.26,6.19)(2008.47,6.17)(2008.6,6.13)(2008.81,6.05)(2008.88,6.0)(2009.01,5.95)(2009.22,6.25)
(2009.36,6.46)(2009.49,6.44)(2009.63,6.40)(2009.84,6.38)(2010.04,6.35)(2010.25,6.50)(2010.31,6.82)(2010.38,6.88)
(2010.52,6.95)(2010.59,7.08)(2010.66,7.03)(2010.73,6.99)(2010.86,6.83)(2011.07,6.54)(2011.27,6.52)(2011.48,6.51)
(2011.68,6.48)(2011.89,6.24)(2012.16,6.01)(2012.43,5.99)(2012.71,5.99)(2012.91,5.88)(2013.05,5.80)(2013.19,5.76)
(2013.39,5.73)(2013.6,5.69)(2013.8,5.65)(2013.94,5.54)(2014.14,5.53)(2014.35,5.46)(2014.49,5.64)(2014.62,5.61)
(2014.83,5.60)(2015.03,5.59)(2015.24,6.13)(2015.31,6.28)(2015.44,6.35)(2015.58,6.40)(2015.72,6.42)(2015.86,6.38)
(2015.99,6.32)(2016.27,6.39)(2016.61,6.55)(2016.75,6.44)(2016.95,6.47)
};
\addplot[dots, color=corange] coordinates {
(1965.98,4.85)(1966.42,5.05)(1968.13,5.16)(1968.71,5.21)(1968.88,5.14)(1969.08,5.05)(1969.06,4.98)(1969.36,4.98)
(1969.66,5.05)(1969.79,5.34)(1969.9,5.26)(1970.04,5.24)(1970.15,5.14)(1970.48,5.25)(1970.59,5.49)(1970.7,5.54)
(1970.73,5.42)(1970.86,5.40)(1970.9,5.31)(1971.34,5.04)(1971.41,5.0)(1971.48,4.96)(1971.66,5.12)(1971.75,4.99)
(1971.96,4.93)(1972.16,4.99)(1972.37,4.94)(1972.48,5.05)(1973.43,5.15)(1973.71,5.42)(1974.42,5.38)(1974.86,5.31)
(1974.86,5.41)(1975.45,5.52)(1975.65,5.56)(1976.37,5.48)(1976.88,5.61)(1977.22,5.41)(1977.36,5.75)(1977.43,5.69)
(1977.56,5.80)(1977.7,5.87)(1977.84,5.85)(1978.31,5.61)(1978.52,5.53)(1978.66,5.64)(1978.8,5.57)(1978.86,5.49)
(1979.04,5.35)(1979.41,5.46)(1979.55,5.60)(1978.93,5.57)(1979.64,5.59)(1979.89,5.40)(1980.05,5.28)(1980.37,5.32)
(1980.44,5.41)(1980.64,5.44)(1980.85,5.36)(1981.37,5.08)(1981.4,5.01)(1981.87,4.93)(1982.01,4.80)(1982.19,4.71)
(1982.35,4.90)(1982.42,4.86)(1982.83,4.81)(1982.9,4.75)(1983.24,4.77)(1983.45,4.80)(1983.52,4.85)(1983.65,4.93)
(1983.86,4.82)(1983.93,4.90)(1984.2,4.77)(1984.4,4.91)(1984.54,5.06)(1984.75,5.09)(1984.82,5.0)(1984.88,4.94)
(1985.09,4.88)(1985.23,4.75)(1985.36,4.85)(1985.5,4.80)(1985.64,4.93)(1985.84,4.86)(1985.91,5.01)(1986.05,4.69)
(1986.25,4.61)(1986.46,4.65)(1986.66,4.58)(1986.8,4.55)(1987.28,4.46)(1987.55,4.57)(1987.69,4.46)(1987.82,4.42)
(1988.1,4.26)(1988.23,4.34)(1988.37,4.31)(1988.44,4.19)(1988.58,4.25)(1988.71,4.21)(1988.92,4.15)(1989.12,4.11)
(1989.26,4.17)(1989.4,4.07)(1989.47,4.19)(1989.33,4.38)(1989.6,4.40)(1989.74,4.51)(1989.81,4.35)(1990.08,4.26)
(1990.15,4.33)(1990.36,4.42)(1990.63,3.97)(1990.7,4.59)(1990.9,4.59)(1991.38,5.04)(1991.38,5.0)(1991.86,5.20)
(1992.27,5.25)(1992.54,5.28)(1992.75,5.34)(1992.89,5.20)(1993.16,5.29)(1993.36,5.26)(1993.57,5.34)(1993.84,5.28)
(1993.98,5.17)(1994.18,5.04)(1994.87,5.32)(1995.15,5.01)(1995.35,4.94)(1995.62,4.93)(1995.89,4.84)(1996.03,4.92)
(1996.17,4.78)(1996.44,4.93)(1996.58,5.02)(1996.72,5.09)(1996.78,5.16)(1996.99,4.98)(1997.13,4.74)(1997.26,4.70)
(1997.4,4.66)(1997.74,4.89)(1997.88,4.84)(1998.09,4.86)(1998.36,5.22)(1998.43,5.48)(1998.41,5.24)(1998.34,5.05)
(1998.48,5.53)(1998.55,5.48)(1998.76,5.46)(1998.9,5.48)(1999.17,5.38)(1999.23,5.41)(1999.37,5.56)(1999.51,5.56)
(2000.1,5.33)(2000.12,5.52)(2000.47,5.50)(2000.6,5.69)(2000.81,5.69)(2001.01,5.69)(2001.15,5.57)(2001.35,5.61)
(2001.56,5.69)(2002.04,5.57)(2002.17,5.57)(2002.38,5.64)(2002.65,5.72)(2002.79,5.72)(2003.06,5.64)(2003.2,5.73)
(2003.41,5.40)(2003.41,6.39)(2003.54,6.43)(2003.61,6.55)(2004.09,6.0)(2004.16,5.92)(2004.36,5.95)(2004.64,6.01)
(2005.05,6.04)(2005.18,5.99)(2005.39,6.07)(2005.53,6.15)(2005.73,6.13)(2006.14,5.96)(2006.42,6.01)(2006.62,6.17)
(2007.03,6.11)(2007.17,6.01)(2007.37,6.0)(2007.58,6.07)(2007.78,5.97)(2008.06,5.91)(2008.4,6.0)(2008.6,5.99)
(2009.15,6.01)(2009.43,6.17)(2009.63,6.33)(2009.84,6.39)(2010.04,6.30)(2010.11,6.39)(2010.45,6.67)(2010.59,6.70)
(2011.07,6.36)(2011.27,6.35)(2011.48,6.31)(2011.61,6.30)(2011.96,6.01)(2012.16,5.97)(2012.3,5.93)(2012.43,5.92)
(2012.64,5.95)(2013.05,5.65)(2013.26,5.64)(2013.53,5.61)(2013.74,5.63)(2013.94,5.49)(2014.14,5.40)(2014.28,5.38)
(2014.49,5.41)(2014.62,5.49)(2014.83,5.53)(2015.03,5.57)(2015.1,5.38)(2015.31,5.71)(2015.44,6.04)(2015.51,6.13)
(2015.58,6.20)(2015.72,6.31)(2015.86,6.24)(2015.99,6.11)(2016.06,6.19)(2016.27,6.13)(2016.4,6.27)(2016.54,6.35)
(2016.68,6.43)(2016.88,6.44)(2017.09,6.31)
};
\end{axis}
\end{tikzpicture}
\end{document}
